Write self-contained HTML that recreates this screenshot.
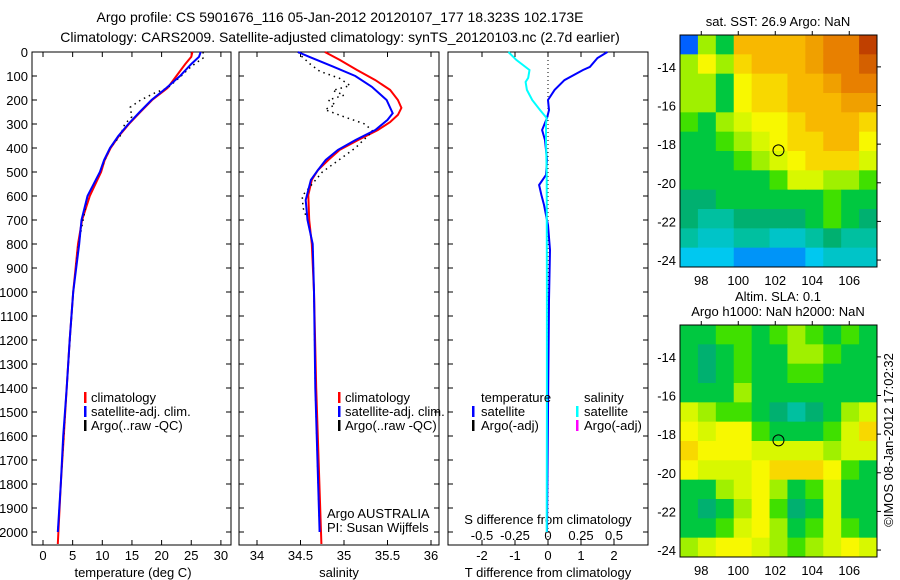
<!DOCTYPE html>
<html><head><meta charset="utf-8"><style>
body{margin:0;background:#fff;}
svg{display:block;font-family:"Liberation Sans",sans-serif;font-size:13px;}
</style></head><body>
<svg id="fig" width="900" height="580" xmlns="http://www.w3.org/2000/svg">
<text x="340" y="22" text-anchor="middle" font-size="14">Argo profile: CS 5901676_116 05-Jan-2012 20120107_177 18.323S 102.173E</text>
<text x="340" y="42" text-anchor="middle" font-size="14">Climatology: CARS2009. Satellite-adjusted climatology: synTS_20120103.nc (2.7d earlier)</text>
<text x="778" y="26" text-anchor="middle">sat. SST: 26.9 Argo: NaN</text>
<text x="778" y="301" text-anchor="middle">Altim. SLA: 0.1</text>
<text x="778" y="316" text-anchor="middle">Argo h1000: NaN h2000: NaN</text>
<text transform="translate(893,440) rotate(-90)" text-anchor="middle">©IMOS 08-Jan-2012 17:02:32</text>
<g id="g"></g>
</svg>
<script>
// ---- data ----
const depthTicks=[0,100,200,300,400,500,600,700,800,900,1000,1100,1200,1300,1400,1500,1600,1700,1800,1900,2000];
const tempTicks=[0,5,10,15,20,25,30];
const salTicks=[34,34.5,35,35.5,36];
const tdiffTicks=[-2,-1,0,1,2];
const sdiffTicks=[-0.5,-0.25,0,0.25,0.5];
const sdiffLabels=["-0.5","-0.25","0","0.25","0.5"];
const tempClimDepth=[0,20,50,100,150,200,250,300,350,400,450,500,600,700,800,1000,1200,1400,1600,1800,2050];
const tempClim=[25.2,25,24,22.5,21,18.4,16.4,14.5,12.8,11.4,10.4,9.8,7.9,6.6,5.9,5.1,4.5,4,3.5,3,2.5];
const tempSatDepth=[0,20,50,100,150,200,250,300,350,400,450,500,600,700,800,1000,1200,1400,1600,1800,2000];
const tempSat=[26.6,26.3,25,23.1,20.8,18.3,16.3,14.4,12.7,11.3,10.3,9.6,7.5,6.5,6.1,5.1,4.5,4,3.4,3,2.5];
const tempArgoDepth=[0,25,60,100,150,170,200,230,270,300,350,400,500,600,800,1000,1400,1800,2000];
const tempArgo=[27,27,25,23.3,21,18.9,16.5,14.7,15,13.8,13,11.3,9.6,7.5,6,5.1,4,3,2.5];
const salClimDepth=[0,33,75,117,158,200,233,262,292,325,367,408,450,492,533,596,700,800,1000,1400,2050];
const salClim=[34.78,34.95,35.15,35.36,35.53,35.62,35.66,35.62,35.53,35.39,35.16,34.95,34.82,34.7,34.63,34.59,34.6,34.63,34.655,34.68,34.74];
const salSatDepth=[0,20,60,100,145,200,255,283,325,367,408,450,492,533,575,617,700,800,1000,1400,2000];
const salSat=[34.47,34.6,34.87,35.13,35.32,35.49,35.56,35.5,35.36,35.13,34.93,34.79,34.7,34.62,34.59,34.56,34.58,34.64,34.655,34.67,34.72];
const salArgoDepth=[0,20,50,80,110,140,160,180,200,220,240,270,300,330,400,500,600,650,700,800,1000,1400,2000];
const salArgo=[34.47,34.52,34.61,34.72,34.95,35.07,34.87,35.0,34.82,34.9,34.78,35.0,35.24,35.33,35.13,34.75,34.52,34.53,34.58,34.64,34.655,34.67,34.72];
const diffDepth=[0,25,62,75,117,158,200,242,275,325,367,408,450,512,554,596,637,679,721,825,1033,1500,2000];
const tDiff=[1.8,1.5,1.27,1.06,0.5,0.2,0,0.03,-0.03,-0.18,-0.09,-0.06,-0.03,-0.06,-0.27,-0.2,-0.12,-0.06,0,0.06,0.03,0,-0.03];
const sDiffDepth=[0,33,75,108,125,158,200,242,275,300,367,500,1000,1500,2000];
const sDiff=[-0.3,-0.24,-0.14,-0.15,-0.17,-0.16,-0.12,-0.06,-0.01,-0.015,-0.015,-0.01,-0.008,-0.008,-0.01];
const mapLonTicks=[98,100,102,104,106];
const mapLatTicks=[-14,-16,-18,-20,-22,-24];
const argoLon=102.173, argoLat=-18.323;
const sstGrid=[
[2,6,5,8,8,8,8,8.5,9,9,10],
[6,7,6,7.5,8,8,8,8.5,9,9,9.5],
[6,6,5,7,7.5,7.5,8,8,8.5,9,9],
[6,6,5,7,7.5,7.5,8,8,8,8.5,8.5],
[5.5,5,6,6.5,7,7,7.5,8,8,8,7.5],
[5,5,5.5,6,6.5,7,7.5,7.5,8,8,7],
[5,5,5,5.5,6,6.5,7,7.5,7.5,7.5,6.5],
[5,5,5,5,5,5.5,6.5,6.5,6,6,5.5],
[4.5,4.5,5,5,5,5,5,5,5.5,5,5],
[4.5,4,4,4.5,4.5,4.5,4.5,5,5.5,5,4.5],
[4,3.5,3.5,4,4,3.5,3.5,4,4.5,4,4],
[3,3,3,2.5,2.5,2.5,2.5,3,3.5,3.5,3.5]];
const slaGrid=[
[5,5,5.5,5.5,5,5.5,6,5.5,5,5.5,5],
[5,4.5,5,5.5,5,5,6,6,5.5,5,5],
[5,4.5,5,5.5,5,5,5.5,5.5,5,5,5],
[5,5,5,6,5,5,5,5,5,5,5],
[6.5,6,5.5,5.5,5,4.5,4,4.5,5,6,6.5],
[7,6.5,7,7,5.5,5,5,5,5.5,6.5,7.5],
[7.5,7,7,7,6.5,6.5,6.5,6.5,6,6.5,6.5],
[7,6.5,6.5,6.5,7,7.5,7.5,7.5,7,5.5,5],
[5,5,6,6.5,7,6,5,5.5,6.5,5,5],
[5,4.5,5,6,7,5.5,4.5,5,6.5,5,5],
[5,5,5.5,6.5,7,6,5,5.5,6.5,5.5,5],
[6,6.5,7,7,6.5,6,5.5,6,6.5,7,6.5]];
// ---- helpers ----
const NS="http://www.w3.org/2000/svg";const G=document.getElementById('g');
function mk(t,a,p){const e=document.createElementNS(NS,t);for(const k in a)e.setAttribute(k,a[k]);(p||G).appendChild(e);return e;}
const topY=52,botY=545;
const yD=d=>topY+d*0.24;
const xT=t=>43+t*5.93;
const xS=s=>257+(s-34)*87;
const xTD=v=>548+v*33;
const xSD=v=>548+v*132;
function line(xs,ds,fx,col,w,dash,name){
  let p=xs.map((v,i)=>(i?'L':'M')+fx(v).toFixed(1)+','+yD(ds[i]).toFixed(1)).join('');
  const e=mk('path',{d:p,fill:'none',stroke:col,'stroke-width':w});
  if(dash)e.setAttribute('stroke-dasharray',dash);
  
  
}
function frame(x0,x1,name){
  const r=mk('rect',{x:x0,y:topY,width:x1-x0,height:botY-topY,fill:'none',stroke:'#000','stroke-width':1});
  
  
  depthTicks.forEach(d=>{mk('line',{x1:x0,x2:x0+5,y1:yD(d),y2:yD(d),stroke:'#000'});mk('line',{x1:x1-5,x2:x1,y1:yD(d),y2:yD(d),stroke:'#000'});});
}
function txt(x,y,s,name,anchor){const t=mk('text',{x:x,y:y,'text-anchor':anchor||'start'});t.textContent=s;
  
  return t;}
function xticks(vals,fx,y,name){
  vals.forEach(v=>{const x=fx(v);mk('line',{x1:x,x2:x,y1:botY,y2:botY-5,stroke:'#000'});mk('line',{x1:x,x2:x,y1:topY,y2:topY+5,stroke:'#000'});
    txt(x,y,String(v),name,'middle');});
}
function legendMark(x,y,col){mk('rect',{x:x,y:y-10,width:2.5,height:11,fill:col});}
// panel 1
frame(32,231,'temperature-panel');
depthTicks.forEach(d=>txt(28,yD(d)+5,String(d),'depth-tick-label','end'));
xticks(tempTicks,xT,560,'temperature-tick-label');
txt(133,577,'temperature (deg C)','temperature-axis-title','middle');
line(tempClim,tempClimDepth,xT,'#f00',2,null,'temperature-climatology-line');
line(tempArgo,tempArgoDepth,xT,'#000',1.5,'1.5,4','temperature-argo-line');
line(tempSat,tempSatDepth,xT,'#00f',2,null,'temperature-satellite-line');
legendMark(84,402,'#f00');txt(91,402,'climatology','legend-climatology');
legendMark(84,416,'#00f');txt(91,416,'satellite-adj. clim.','legend-satellite');
legendMark(84,430,'#000');txt(91,430,'Argo(..raw -QC)','legend-argo');
// panel 2
frame(239,439,'salinity-panel');
xticks(salTicks,xS,560,'salinity-tick-label');
txt(339,577,'salinity','salinity-axis-title','middle');
line(salClim,salClimDepth,xS,'#f00',2,null,'salinity-climatology-line');
line(salArgo,salArgoDepth,xS,'#000',1.5,'1.5,4','salinity-argo-line');
line(salSat,salSatDepth,xS,'#00f',2,null,'salinity-satellite-line');
legendMark(338,402,'#f00');txt(345,402,'climatology','legend-climatology');
legendMark(338,416,'#00f');txt(345,416,'satellite-adj. clim.','legend-satellite');
legendMark(338,430,'#000');txt(345,430,'Argo(..raw -QC)','legend-argo');
txt(327,518,'Argo AUSTRALIA','argo-australia-label');
txt(327,532,'PI: Susan Wijffels','pi-label');
// panel 3
frame(448,648,'difference-panel');
mk('line',{x1:548,x2:548,y1:topY,y2:botY,stroke:'#000','stroke-dasharray':'1,3'});
xticks(tdiffTicks,xTD,560,'t-diff-tick-label');
sdiffTicks.forEach((v,i)=>txt(xSD(v),540,sdiffLabels[i],'s-diff-tick-label','middle'));
txt(548,524,'S difference from climatology','s-diff-axis-title','middle');
txt(548,577,'T difference from climatology','t-diff-axis-title','middle');
line(tDiff,diffDepth,xTD,'#00f',2,null,'t-diff-satellite-line');
line(sDiff,sDiffDepth,xSD,'#0ff',2,null,'s-diff-satellite-line');
txt(481,402,'temperature','legend-temperature-header');
txt(584,402,'salinity','legend-salinity-header');
legendMark(472,416,'#00f');txt(481,416,'satellite','legend-t-satellite');
legendMark(472,430,'#000');txt(481,430,'Argo(-adj)','legend-t-argo');
legendMark(576,416,'#0ff');txt(584,416,'satellite','legend-s-satellite');
legendMark(576,430,'#f0f');txt(584,430,'Argo(-adj)','legend-s-argo');
// maps
const stops=[[0,[0,0,143]],[2,[0,96,255]],[3,[0,200,240]],[4,[0,192,160]],[4.5,[0,176,112]],[5,[0,200,64]],[5.5,[64,224,0]],[6,[160,240,0]],[6.5,[216,248,0]],[7,[248,248,0]],[7.5,[248,216,0]],[8,[248,184,0]],[8.5,[240,160,0]],[9,[232,128,0]],[10,[192,64,0]]];
function cmap(v){for(let i=1;i<stops.length;i++){if(v<=stops[i][0]){const a=stops[i-1],b=stops[i],f=(v-a[0])/(b[0]-a[0]);return 'rgb('+a[1].map((c,k)=>Math.round(c+(b[1][k]-c)*f)).join(',')+')';}}return 'rgb(192,64,0)';}
function map(grid,y0,name){
  const x0=680,x1=877,y1=y0+232;
  const lonL=96.85,lonR=107.5,latT=-12.35,latB=-24.36;
  const xL=l=>x0+(l-lonL)/(lonR-lonL)*(x1-x0);
  const yL=l=>y0+(latT-l)/(latT-latB)*(y1-y0);
  const nr=grid.length,nc=grid[0].length,cw=(x1-x0)/nc,ch=(y1-y0)/nr;
  grid.forEach((row,r)=>row.forEach((v,c)=>{const e=mk('rect',{x:x0+c*cw,y:y0+r*ch,width:cw+0.5,height:ch+0.5,fill:cmap(v)});
    
    }));
  const f=mk('rect',{x:x0,y:y0,width:x1-x0,height:y1-y0,fill:'none',stroke:'#000'});
  
  
  mapLonTicks.forEach(l=>{const x=xL(l);mk('line',{x1:x,x2:x,y1:y0-4,y2:y0,stroke:'#000'});txt(x,y1+18,String(l),name+'-lon-label','middle');});
  mapLatTicks.forEach(l=>{const y=yL(l);mk('line',{x1:x1,x2:x1+4,y1:y,y2:y,stroke:'#000'});txt(x0-4,y+5,String(l),name+'-lat-label','end');});
  const c=mk('circle',{cx:xL(argoLon),cy:yL(argoLat),r:5.5,fill:'none',stroke:'#000'});
  
  
}
map(sstGrid,35,'sst-map');
map(slaGrid,325,'sla-map');
</script>
</body></html>
